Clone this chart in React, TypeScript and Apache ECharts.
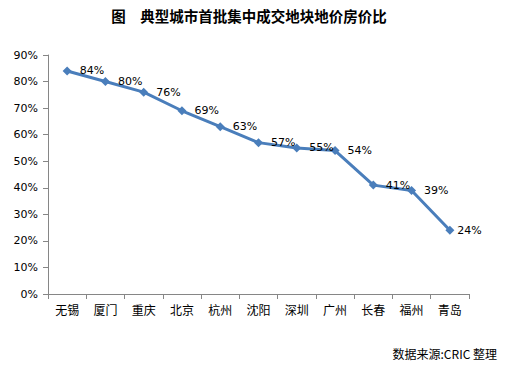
import React, { useEffect, useRef } from "react";
import * as echarts from "echarts";

const categories = ["无锡", "厦门", "重庆", "北京", "杭州", "沈阳", "深圳", "广州", "长春", "福州", "青岛"];
const ratios = [84, 80, 76, 69, 63, 57, 55, 54, 41, 39, 24];
const yTicks = [0, 10, 20, 30, 40, 50, 60, 70, 80, 90];
const titleText = "图　典型城市首批集中成交地块地价房价比";
const sourceText = "数据来源:CRIC 整理";

export default function App() {
  const ref = useRef<HTMLDivElement>(null);
  useEffect(() => {
    const chart = echarts.init(ref.current!, undefined, { renderer: "svg" });
    const data = ratios.map((v, i) =>
      i === ratios.length - 1 ? { value: v, label: { distance: 3 } } : v
    );
    chart.setOption({
      animation: false,
      backgroundColor: "#fff",
      title: {
        text: titleText,
        left: 244,
        textAlign: "center",
        top: 3,
        textStyle: { fontSize: 14.5, fontWeight: "bold", color: "#000", fontFamily: "Noto Sans CJK SC" },
      },
      graphic: [
        {
          type: "text",
          right: 17,
          top: 347,
          style: { text: sourceText, fontSize: 12, fill: "#000", fontFamily: "Noto Sans CJK SC" },
        },
      ],
      grid: { left: 48, right: 45, top: 55, bottom: 77 },
      xAxis: {
        type: "category",
        data: categories,
        boundaryGap: true,
        axisLine: { lineStyle: { color: "#868686", width: 1 } },
        axisTick: { show: true, alignWithLabel: false, length: 5, lineStyle: { color: "#868686" } },
        axisLabel: { color: "#000", fontSize: 12, margin: 9, fontFamily: "Noto Sans CJK SC" },
      },
      yAxis: {
        type: "value",
        min: yTicks[0],
        max: yTicks[yTicks.length - 1],
        interval: 10,
        axisLine: { show: true, lineStyle: { color: "#868686", width: 1 } },
        axisTick: { show: true, length: 5, lineStyle: { color: "#868686" } },
        splitLine: { show: false },
        axisLabel: { color: "#000", fontSize: 11, margin: 10, fontFamily: "DejaVu Sans", formatter: "{value}%" },
      },
      series: [
        {
          type: "line",
          data,
          symbol: "diamond",
          symbolSize: 9,
          lineStyle: { color: "#4a7ebb", width: 3 },
          itemStyle: { color: "#4a7ebb" },
          label: {
            show: true,
            position: "right",
            distance: 8,
            color: "#000",
            fontSize: 11,
            fontFamily: "DejaVu Sans",
            formatter: "{c}%",
          },
        },
      ],
    });
    return () => chart.dispose();
  }, []);
  return <div ref={ref} style={{ width: 514, height: 371, position: "absolute", left: 0, top: 0 }} />;
}
